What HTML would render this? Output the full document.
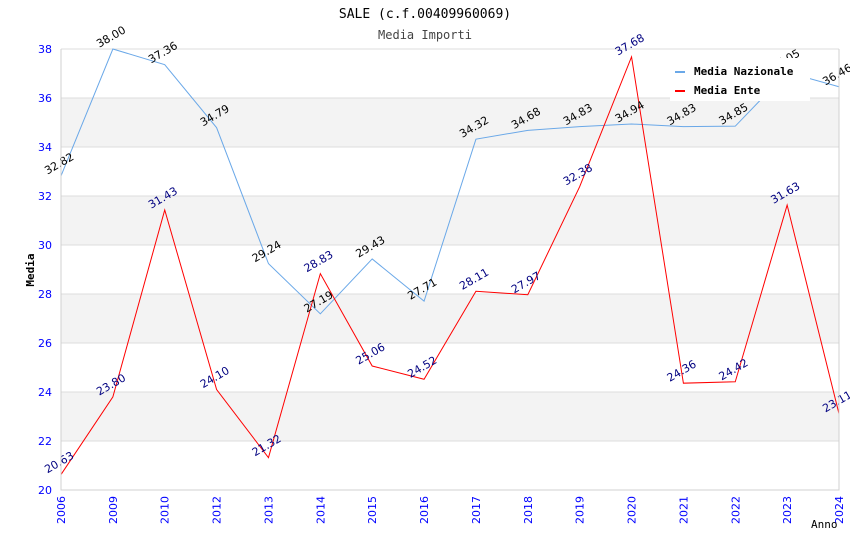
<!DOCTYPE html>
<html><head><meta charset="utf-8"><style>body{margin:0;background:#fff}svg{display:block}</style></head>
<body>
<svg id="chart" width="850" height="550" xmlns="http://www.w3.org/2000/svg" font-family="DejaVu Sans, sans-serif">
<text x="425" y="18" text-anchor="middle" font-family="DejaVu Sans Mono, monospace" font-size="13">SALE (c.f.00409960069)</text>
<text x="425" y="39" text-anchor="middle" font-family="DejaVu Sans Mono, monospace" font-size="12" fill="#444">Media Importi</text>
<g id="grid"></g>
<g id="series"></g>
<g id="labels"></g>
<g id="axes"></g>
<text transform="translate(34,270) rotate(-90)" text-anchor="middle" font-family="DejaVu Sans Mono, monospace" font-weight="bold" font-size="11">Media</text>
<text x="811" y="528" font-family="DejaVu Sans Mono, monospace" font-size="11">Anno</text>
<g>
<rect x="670" y="58" width="140" height="43" fill="#fff"/>
<rect x="675" y="71" width="10" height="2" fill="#6aa8e8"/>
<text x="694" y="75" font-family="DejaVu Sans Mono, monospace" font-weight="bold" font-size="11">Media Nazionale</text>
<rect x="675" y="90" width="10" height="2" fill="#ff0000"/>
<text x="694" y="94" font-family="DejaVu Sans Mono, monospace" font-weight="bold" font-size="11">Media Ente</text>
</g>
</svg>
<script>
const categories=["2006","2009","2010","2012","2013","2014","2015","2016","2017","2018","2019","2020","2021","2022","2023","2024"];
const nazionale=[32.82,38.00,37.36,34.79,29.24,27.19,29.43,27.71,34.32,34.68,34.83,34.94,34.83,34.85,37.05,36.46];
const ente=[20.63,23.80,31.43,24.10,21.32,28.83,25.06,24.52,28.11,27.97,32.38,37.68,24.36,24.42,31.63,23.11];
const yTicks=[20,22,24,26,28,30,32,34,36,38];
const NS="http://www.w3.org/2000/svg";
const L=61,R=839,T=49,B=490,yMin=20,yMax=38;
const x=i=>L+i*(R-L)/(categories.length-1);
const y=v=>B-(v-yMin)/(yMax-yMin)*(B-T);
function mk(tag,attrs,parent){const e=document.createElementNS(NS,tag);for(const k in attrs)e.setAttribute(k,attrs[k]);document.getElementById(parent).appendChild(e);return e;}
for(let i=0;i<yTicks.length-1;i++){
 if(i%2===1){const r=mk('rect',{x:L,y:y(yTicks[i+1]),width:R-L,height:y(yTicks[i])-y(yTicks[i+1]),fill:'#f3f3f3'},'grid');
 
 }
}
yTicks.forEach(t=>{
 const l=mk('line',{x1:L,x2:R,y1:y(t),y2:y(t),stroke:'#dcdcdc'},'grid');
 
 
 const tx=mk('text',{x:L-9,y:y(t)+4,'text-anchor':'end','font-size':11,fill:'#0000ff'},'axes');
 
 
 tx.textContent=t;
});
const ax=mk('path',{d:`M${L},${T}V${B}H${R}V${T}`,fill:'none',stroke:'#d0d0d0'},'axes');


categories.forEach((c,i)=>{
 const tx=mk('text',{transform:`translate(${x(i)+4},${B+6}) rotate(-90)`,'text-anchor':'end','font-size':11,fill:'#0000ff'},'axes');
 
 
 tx.textContent=c;
});
function series(vals,color,labColor,name){
 const p=mk('polyline',{points:vals.map((v,i)=>x(i)+','+y(v)).join(' '),fill:'none',stroke:color,'stroke-width':1},'series');
 
 
 vals.forEach((v,i)=>{
  const t=mk('text',{transform:`translate(${x(i)},${y(v)-9}) rotate(-30)`,'text-anchor':'middle','font-size':11,fill:labColor},'labels');
  
  
  t.textContent=v.toFixed(2);
 });
}
series(nazionale,'#6aa8e8','#000','media-nazionale');
series(ente,'#ff0000','#000080','media-ente');
</script>
</body></html>
